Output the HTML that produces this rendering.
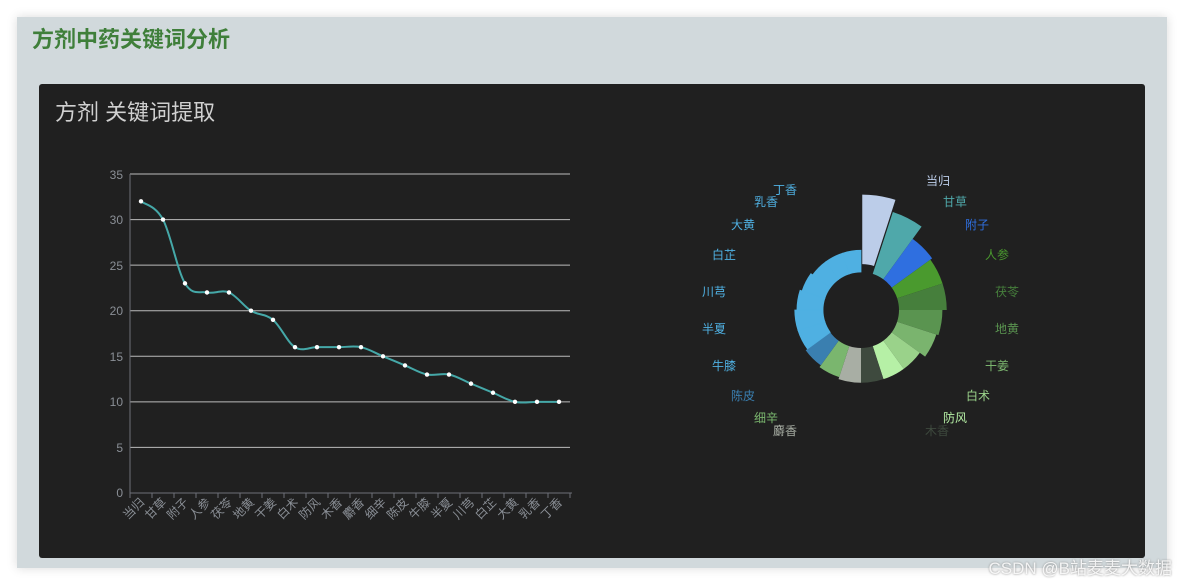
<!DOCTYPE html>
<html><head><meta charset="utf-8"><style>
body{margin:0;width:1184px;height:586px;background:#fff;position:relative;overflow:hidden;font-family:"Liberation Sans","Noto Sans CJK SC",sans-serif}
.panel{position:absolute;left:17px;top:17px;width:1150px;height:551px;background:#d1d9dc;box-shadow:0 0 10px rgba(0,0,0,.15)}
.title{position:absolute;left:32px;top:22px;font-size:22px;font-weight:bold;color:#3f7f3a;font-family:"Liberation Sans","Noto Sans CJK SC",sans-serif}
.dark{position:absolute;left:39px;top:84px;width:1106px;height:474px;background:#202020;border-radius:3px}
.sub{position:absolute;left:55px;top:95px;font-size:22px;color:#d0d0d0}
.wm{position:absolute;right:12px;top:554px;font-size:17px;color:rgba(255,255,255,.85);text-shadow:0 0 2px #888}
svg{position:absolute;left:0;top:0}
</style></head><body>
<div class="panel"></div>
<div class="title">方剂中药关键词分析</div>
<div class="dark"></div>
<div class="sub">方剂 关键词提取</div>
<svg width="1184" height="586" font-family="Liberation Sans, Noto Sans CJK SC, sans-serif">
<g id="grid" stroke="#bbb" stroke-width="1"></g>
<g fill="#8a8f96" font-size="12" text-anchor="end">
<text x="123" y="497">0</text><text x="123" y="452">5</text><text x="123" y="406">10</text><text x="123" y="361">15</text><text x="123" y="315">20</text><text x="123" y="270">25</text><text x="123" y="224">30</text><text x="123" y="179">35</text>
</g>
<g id="xl" fill="#8a8f96" font-size="12" text-anchor="end">
<text transform="translate(145,503) rotate(-45)">当归</text>
<text transform="translate(167,503) rotate(-45)">甘草</text>
<text transform="translate(189,503) rotate(-45)">附子</text>
<text transform="translate(211,503) rotate(-45)">人参</text>
<text transform="translate(233,503) rotate(-45)">茯苓</text>
<text transform="translate(255,503) rotate(-45)">地黄</text>
<text transform="translate(277,503) rotate(-45)">干姜</text>
<text transform="translate(299,503) rotate(-45)">白术</text>
<text transform="translate(321,503) rotate(-45)">防风</text>
<text transform="translate(343,503) rotate(-45)">木香</text>
<text transform="translate(365,503) rotate(-45)">麝香</text>
<text transform="translate(387,503) rotate(-45)">细辛</text>
<text transform="translate(409,503) rotate(-45)">陈皮</text>
<text transform="translate(431,503) rotate(-45)">牛膝</text>
<text transform="translate(453,503) rotate(-45)">半夏</text>
<text transform="translate(475,503) rotate(-45)">川芎</text>
<text transform="translate(497,503) rotate(-45)">白芷</text>
<text transform="translate(519,503) rotate(-45)">大黄</text>
<text transform="translate(541,503) rotate(-45)">乳香</text>
<text transform="translate(563,503) rotate(-45)">丁香</text>
</g>
<path id="line" fill="none" stroke="#45a8a8" stroke-width="2"></path>
<g id="pts" fill="#fff"></g>
<g id="pie"></g>
<g font-size="12" text-anchor="middle">
<text x="938" y="185" fill="#bccde9">当归</text>
<text x="955" y="206" fill="#4fa8aa">甘草</text>
<text x="977" y="229" fill="#2f6fe0">附子</text>
<text x="997" y="259" fill="#4a9a2e">人参</text>
<text x="1007" y="296" fill="#467f3c">茯苓</text>
<text x="1007" y="333" fill="#5a9450">地黄</text>
<text x="997" y="370" fill="#7ab46e">干姜</text>
<text x="978" y="400" fill="#9ad28a">白术</text>
<text x="955" y="422" fill="#b6f0a6">防风</text>
<text x="937" y="435" fill="#3e4a3e">木香</text>
<text x="785" y="435" fill="#a8aea4">麝香</text>
<text x="766" y="422" fill="#7ab66e">细辛</text>
<text x="743" y="400" fill="#3a7fb0">陈皮</text>
<text x="724" y="370" fill="#4fb0e2">牛膝</text>
<text x="714" y="333" fill="#4fb0e2">半夏</text>
<text x="714" y="296" fill="#4fb0e2">川芎</text>
<text x="724" y="259" fill="#4fb0e2">白芷</text>
<text x="743" y="229" fill="#4fb0e2">大黄</text>
<text x="766" y="206" fill="#4fb0e2">乳香</text>
<text x="785" y="194" fill="#4fb0e2">丁香</text>
</g>
</svg>
<div class="wm">CSDN @B站麦麦大数据</div>
<script>
var v=[32,30,23,22,22,20,19,16,16,16,16,15,14,13,13,12,11,10,10,10];
var g=document.getElementById('grid'),s='';
for(var i=1;i<=7;i++){var y=493-i*5*9.114;s+='<line x1="130" x2="570" y1="'+y+'" y2="'+y+'"/>';}
s+='<line x1="130" x2="130" y1="174" y2="493" stroke="#6e7079"/><line x1="130" x2="572" y1="493" y2="493" stroke="#6e7079"/>';
for(var i=0;i<=20;i++){var x=130+22*i;s+='<line x1="'+x+'" x2="'+x+'" y1="493" y2="498" stroke="#6e7079"/>';}
g.innerHTML=s;
var P=v.map(function(a,i){return[141+22*i,493-a*9.114]});
var d='M'+P[0][0]+','+P[0][1];
for(var i=0;i<P.length-1;i++){var p0=P[Math.max(0,i-1)],p1=P[i],p2=P[i+1],p3=P[Math.min(P.length-1,i+2)],t=0.35;
d+=' C'+(p1[0]+(p2[0]-p0[0])*t/2)+','+(p1[1]+(p2[1]-p0[1])*t/2)+' '+(p2[0]-(p3[0]-p1[0])*t/2)+','+(p2[1]-(p3[1]-p1[1])*t/2)+' '+p2[0]+','+p2[1];}
document.getElementById('line').setAttribute('d',d);
document.getElementById('pts').innerHTML=P.map(function(p){return '<circle cx="'+p[0]+'" cy="'+p[1]+'" r="2.2"/>'}).join('');
var col=['#bccde9','#4fa8aa','#2f6fe0','#4a9a2e','#467f3c','#5a9450','#7ab46e','#9ad28a','#b6f0a6','#3e4a3e','#a8aea4','#7ab66e','#3a7fb0','#4fb0e2','#4fb0e2','#4fb0e2','#4fb0e2','#4fb0e2','#4fb0e2','#4fb0e2'];
var cx=861,cy=310,ri=38,h='';
for(var i=0;i<20;i++){var a0=i*18*Math.PI/180,a1=(i+1)*18*Math.PI/180,r=38+2.17*v[i],ox=0,oy=0;
if(i==0){var m=(a0+a1)/2;ox=8*Math.sin(m);oy=-8*Math.cos(m);}
function pt(rr,a){return (cx+ox+rr*Math.sin(a)).toFixed(2)+','+(cy+oy-rr*Math.cos(a)).toFixed(2)}
var st=(i>=13)?' stroke="'+col[i]+'" stroke-width="0.8"':'';
h+='<path fill="'+col[i]+'"'+st+' d="M'+pt(ri,a0)+' L'+pt(r,a0)+' A'+r+','+r+' 0 0 1 '+pt(r,a1)+' L'+pt(ri,a1)+' A'+ri+','+ri+' 0 0 0 '+pt(ri,a0)+'Z"/>';}
document.getElementById('pie').innerHTML=h;
</script>
</body></html>
